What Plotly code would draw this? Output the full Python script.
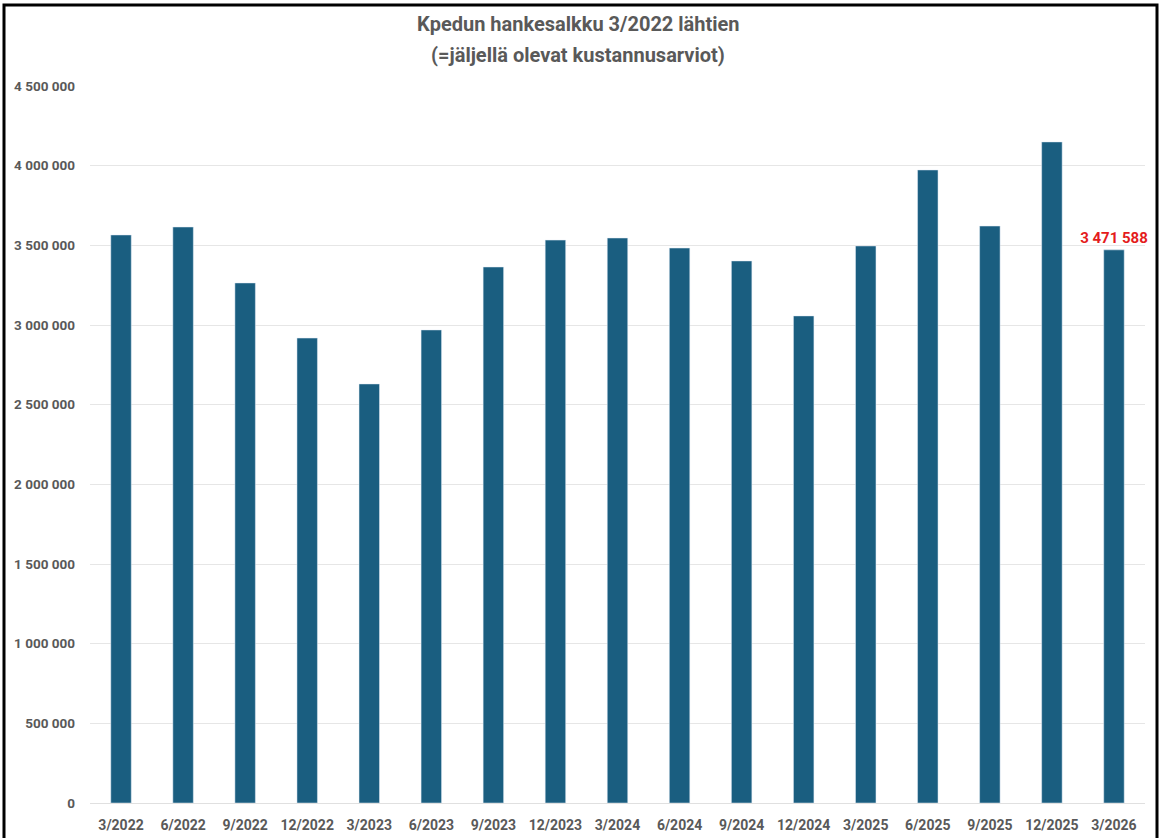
import plotly.graph_objects as go

categories = ["3/2022", "6/2022", "9/2022", "12/2022", "3/2023", "6/2023", "9/2023", "12/2023",
              "3/2024", "6/2024", "9/2024", "12/2024", "3/2025", "6/2025", "9/2025", "12/2025", "3/2026"]
values = [3565000, 3615000, 3264000, 2918000, 2630000, 2969000, 3364000, 3533000,
          3546000, 3483000, 3402000, 3057000, 3496000, 3973000, 3621000, 4149000, 3471588]
labels = [""] * (len(values) - 1) + ["3 471 588"]
y_ticks = [0, 500000, 1000000, 1500000, 2000000, 2500000, 3000000, 3500000, 4000000, 4500000]
title_lines = ["Kpedun hankesalkku 3/2022 lähtien", "(=jäljellä olevat kustannusarviot)"]

W, H = 1161, 838
L, R, T, B = 90, 16, 86, 35
pw, ph = W - L - R, H - T - B

FONT = "Roboto, Liberation Sans, sans-serif"
GRAY = "#595959"

fig = go.Figure(go.Bar(
    x=categories, y=values,
    marker=dict(color="#1a5e80"),
    text=labels, textposition="outside", cliponaxis=False, constraintext="none",
    textfont=dict(color="#e41c1c", size=15, family=FONT, weight="bold"),
))

annotations = []
for i, line in enumerate(title_lines):
    annotations.append(dict(
        text=line, xref="paper", yref="paper",
        x=(578 - L) / pw, y=(H - B - (24 + 31 * i)) / ph,
        xanchor="center", yanchor="middle", showarrow=False,
        font=dict(family=FONT, size=20, color=GRAY, weight="bold")))

fig.update_layout(
    width=W, height=H,
    margin=dict(l=L, r=R, t=T, b=B),
    paper_bgcolor="white", plot_bgcolor="white",
    bargap=0.67,
    separators=", ",
    showlegend=False,
    annotations=annotations,
    xaxis=dict(showgrid=False, showline=True, linecolor="#e0e0e0", linewidth=1,
               ticks="", ticklabelstandoff=9, automargin=False,
               tickfont=dict(family=FONT, size=14, color=GRAY, weight="bold")),
    yaxis=dict(range=[0, 4500000], tickvals=y_ticks, tickformat=",d", automargin=False,
               showgrid=True, gridcolor="#e6e6e6", gridwidth=1, zeroline=False,
               ticks="", ticklen=0, tickfont=dict(family=FONT, size=13.5, color=GRAY, weight="bold"),
               ticklabelstandoff=14),
    shapes=[dict(type="rect", xref="paper", yref="paper",
                 x0=(4 - L) / pw, x1=(1157 - L) / pw,
                 y0=(H - B - 845) / ph, y1=(H - B - 5) / ph,
                 line=dict(color="black", width=3), fillcolor="rgba(0,0,0,0)", layer="above")],
)

fig.write_html("out.html", config={"displayModeBar": False},
               post_script="document.body.style.margin='0';")
